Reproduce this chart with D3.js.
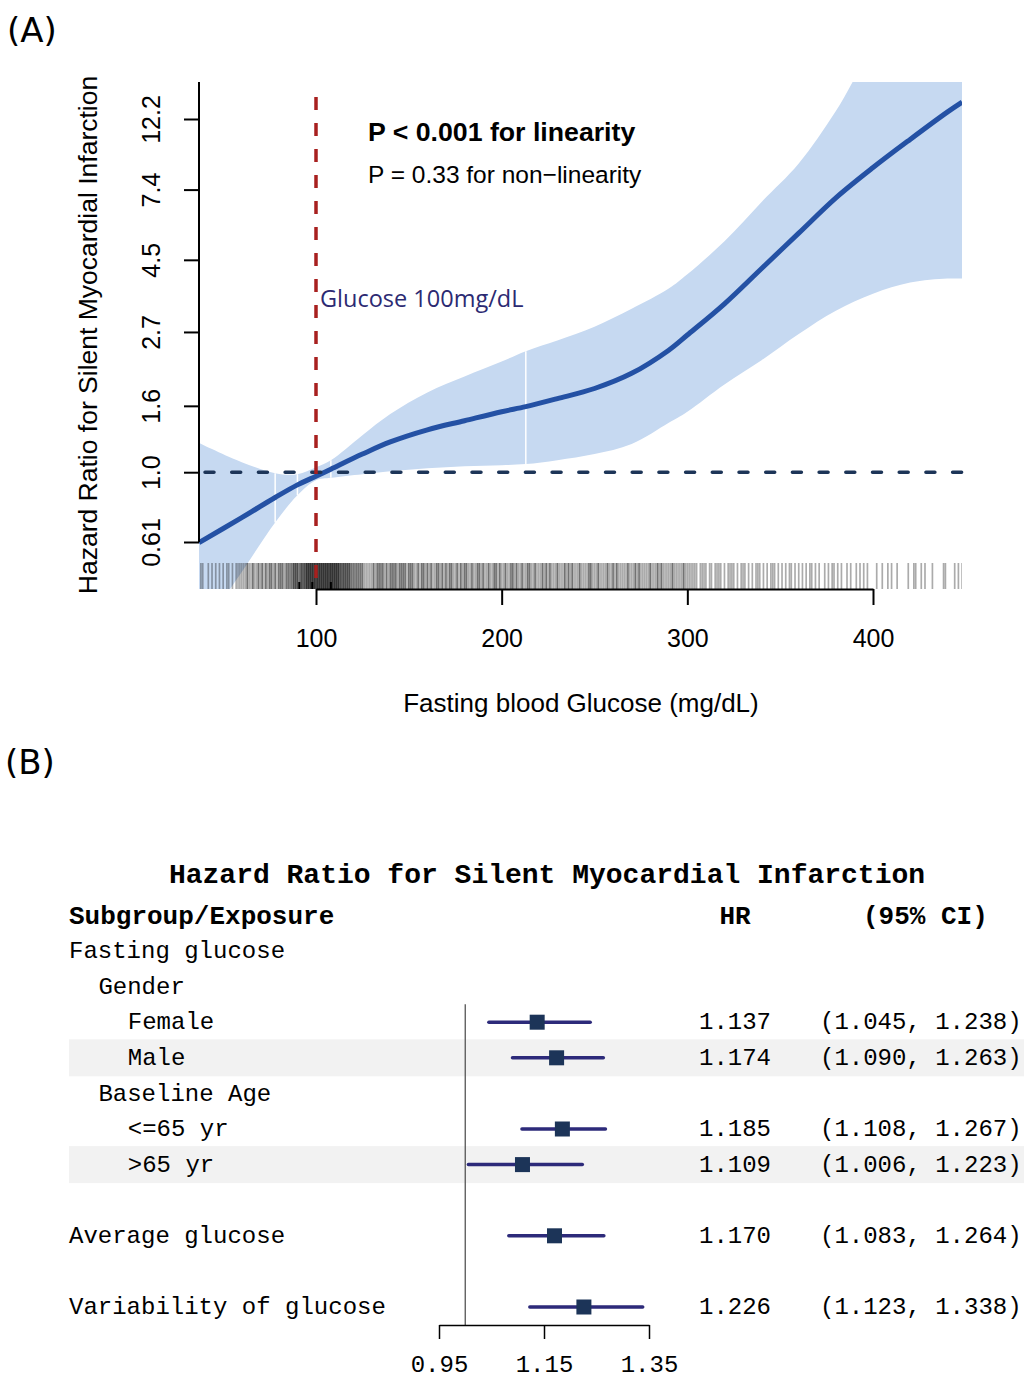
<!DOCTYPE html>
<html>
<head>
<meta charset="utf-8">
<script src="https://cdn.jsdelivr.net/npm/d3@7"></script>
<style>
  body { margin: 0; background: #fff; }
  svg { display: block; }
</style>
</head>
<body>
<div id="chart"></div>
<script>
// ---- Panel A: spline of fasting glucose vs hazard ratio ----
const glucoseGrid = [37, 60, 78, 90, 100, 108, 125, 140, 160, 180, 200, 213, 230, 250, 270, 290, 300, 320, 340, 360, 380, 400, 420, 440, 448];
const hrFit = [0.607, 0.725, 0.836, 0.914, 0.972, 1.022, 1.137, 1.239, 1.35, 1.44, 1.535, 1.591, 1.684, 1.809, 2.014, 2.373, 2.642, 3.296, 4.233, 5.435, 6.979, 8.65, 10.56, 12.81, 13.75];
const hrLower = [0.317, 0.493, 0.7, 0.849, 0.944, 0.961, 0.986, 1.007, 1.029, 1.044, 1.051, 1.059, 1.089, 1.137, 1.221, 1.419, 1.535, 1.862, 2.21, 2.66, 3.136, 3.54, 3.83, 3.94, 3.94];
const hrUpper = [1.23, 1.074, 0.993, 0.986, 1.036, 1.089, 1.3, 1.51, 1.76, 1.97, 2.19, 2.357, 2.54, 2.8, 3.18, 3.67, 4.06, 5.13, 6.78, 8.9, 12.9, 20.4, 29.1, 38.7, 43.1];
const bandSeams = [78, 90, 108, 213];
const knotMarks = [91, 98, 108];
const xTicksA = [100, 200, 300, 400];
const yTicksA = [0.61, 1.0, 1.6, 2.7, 4.5, 7.4, 12.2];
const yTickLabelsA = ["0.61", "1.0", "1.6", "2.7", "4.5", "7.4", "12.2"];
const refGlucose = 100;

// one rug line per participant (mg/dL)
const rugGlucose = [
  38, 39, 42, 44, 46, 48, 50, 52, 53, 55, 57, 58,
  59, 60, 61, 62, 63, 64, 65, 66, 67, 68, 69, 70, 71, 72, 73, 74, 75, 76, 77, 78, 79,
  80, 81, 82, 83, 84, 85, 86, 87, 88, 89, 90, 91, 92, 93, 94, 95, 96, 97, 98, 99,
  100, 101, 102, 103, 104, 105, 106, 107, 108, 109, 110, 111, 112, 113, 114, 115, 116, 117, 118, 119,
  120, 121, 122, 123, 124, 125, 126, 127, 128, 129, 130,
  63, 66, 69, 71, 73, 75, 76, 78, 80, 81, 82, 84, 85, 86, 87, 88, 89, 90,
  88, 89, 90, 91, 92, 93, 94, 95, 96, 97, 98, 99, 100, 101, 102, 103, 104, 105, 106,
  107, 108, 109, 110, 111, 112, 113, 114, 115, 116, 117, 118, 119, 120, 121, 122, 123, 124, 125,
  92, 93, 94, 95, 96, 97, 98, 99, 100, 101, 102, 103, 104, 105, 106, 107, 108, 109, 110,
  111, 112, 113, 114, 115, 116, 117, 118,
  95, 96, 97, 98, 99, 100, 101, 102, 103, 104, 105, 106, 107, 108, 109, 110, 111, 112,
  131, 132, 133, 134, 135, 136, 137, 138, 139, 140, 141, 142, 143, 144, 145, 146, 147, 148, 149,
  150, 151, 152, 153, 154, 155, 156, 157, 158, 159, 160, 161, 162, 163, 164, 165, 166, 167, 168, 169,
  170, 171, 172, 173, 174, 175, 176, 177, 178, 179, 180, 181, 182, 183, 184, 185, 186, 187, 188, 189,
  190, 191, 192, 193, 194, 195, 196, 197, 198, 199, 200, 201, 202, 203, 204, 205, 206, 207, 208, 209,
  210, 211, 212, 213, 214, 215, 216, 217, 218, 219, 220, 221, 222, 223, 224, 225, 226, 227, 228, 229,
  230, 231, 232, 233, 234, 235, 236, 237, 238, 239, 240, 241, 242, 243, 244, 245, 246, 247, 248, 249,
  250, 251, 252, 253, 254, 255, 256, 257, 258, 259, 260, 261, 262, 263, 264, 265, 266, 267, 268, 269,
  270, 271, 272, 273, 274, 275, 276, 277, 278, 279, 280, 281, 282, 283, 284, 285, 286, 287, 288, 289,
  290, 291, 292, 293, 294, 295, 296, 297, 298, 299, 300,
  131, 133, 134, 136, 138, 140, 141, 143, 145, 147, 148, 150, 152, 155, 157, 160, 162, 165, 168, 170,
  173, 176, 178, 181, 184, 187, 190, 193, 196, 199, 202, 205, 208, 211, 214, 218, 222, 226, 230, 234,
  238, 242, 247, 252, 257, 262, 268, 274, 280, 286, 292, 298,
  135, 142, 146, 151, 158, 166, 172, 180, 188, 197, 206, 215, 224, 236, 248, 260, 272, 284,
  301, 302, 304, 305, 307, 308, 310, 312, 313, 315, 317, 318, 320, 322, 324, 325, 327, 329, 331, 333,
  335, 337, 339, 341, 343, 345, 347, 349, 351, 353, 355, 358, 360, 362, 364, 367, 369, 371, 374, 376,
  378, 381, 383, 386, 388, 391, 393, 395, 397,
  303, 309, 316, 323, 330, 338, 346, 356, 366, 379,
  402, 405, 408, 410, 413, 419, 422, 423, 426, 428, 432, 438, 439, 444, 446, 448
];

// ---- Panel B: forest plot ----
const rowLabels = ["Fasting glucose", "Gender", "Female", "Male", "Baseline Age", "<=65 yr", ">65 yr", "Average glucose", "Variability of glucose"];
const rowSlot = [0, 1, 2, 3, 4, 5, 6, 8, 10];
const rowIndent = [0, 1, 2, 2, 1, 2, 2, 0, 0];
const hrEst = [null, null, 1.137, 1.174, null, 1.185, 1.109, 1.170, 1.226];
const ciLow = [null, null, 1.045, 1.090, null, 1.108, 1.006, 1.083, 1.123];
const ciHigh = [null, null, 1.238, 1.263, null, 1.267, 1.223, 1.264, 1.338];
const shadedSlots = [3, 6];
const xTicksB = [0.95, 1.15, 1.35];

const sansA = "'Liberation Sans', Arial, Helvetica, sans-serif";
const mono = "'Liberation Mono', 'Courier New', monospace";

const svg = d3
  .select("#chart")
  .append("svg")
  .attr("width", 1024)
  .attr("height", 1379)
  .style("background", "#fff");

drawSpline(svg);
drawForest(svg);

function drawSpline(svg) {
  const plot = { left: 199, right: 962, top: 82, bottom: 589 };

  const x = d3.scaleLinear().domain([100, 400]).range([316, 873]);
  const y = d3.scaleLog().domain([0.61, 12.2]).range([542, 119]);
  const smooth = d3.curveCatmullRom.alpha(0.5);

  svg.append("text")
    .attr("x", 7).attr("y", 42)
    .style("font-family", "'DejaVu Sans', sans-serif")
    .style("font-size", "34px")
    .text("(A)");

  svg.append("clipPath").attr("id", "clipA")
    .append("rect")
    .attr("x", plot.left).attr("y", plot.top)
    .attr("width", plot.right - plot.left)
    .attr("height", plot.bottom - plot.top);

  const g = svg.append("g");
  const clipped = g.append("g").attr("clip-path", "url(#clipA)");

  // confidence band
  const band = d3.area()
    .x(function (d, i) { return x(glucoseGrid[i]); })
    .y0(function (d, i) { return y(hrLower[i]); })
    .y1(function (d, i) { return y(hrUpper[i]); })
    .curve(smooth);

  clipped.append("path")
    .datum(glucoseGrid)
    .attr("d", band)
    .attr("fill", "#c6d9f1");

  // faint seams in the band polygon
  bandSeams.forEach(function (s) {
    const i = glucoseGrid.indexOf(s);
    clipped.append("line")
      .attr("x1", x(s)).attr("x2", x(s))
      .attr("y1", y(hrLower[i])).attr("y2", y(hrUpper[i]))
      .attr("stroke", "#fff")
      .attr("stroke-width", 1.5);
  });

  // rug
  clipped.append("g")
    .selectAll("line")
    .data(rugGlucose)
    .enter()
    .append("line")
    .attr("x1", function (d) { return x(d); })
    .attr("x2", function (d) { return x(d); })
    .attr("y1", 563)
    .attr("y2", plot.bottom)
    .attr("stroke", "#000")
    .attr("stroke-opacity", 0.33)
    .attr("stroke-width", 1.7);

  g.selectAll(".knot")
    .data(knotMarks)
    .enter()
    .append("line")
    .attr("x1", function (d) { return x(d); })
    .attr("x2", function (d) { return x(d); })
    .attr("y1", 582)
    .attr("y2", plot.bottom)
    .attr("stroke", "#000")
    .attr("stroke-width", 2);

  // reference line HR = 1
  g.append("line")
    .attr("x1", plot.left).attr("x2", plot.right)
    .attr("y1", y(1)).attr("y2", y(1))
    .attr("stroke", "#1d3558")
    .attr("stroke-width", 3.5)
    .attr("stroke-linecap", "round")
    .attr("stroke-dasharray", "9,17.7")
    .attr("stroke-dashoffset", -6);

  // fitted curve
  const line = d3.line()
    .x(function (d, i) { return x(glucoseGrid[i]); })
    .y(function (d) { return y(d); })
    .curve(smooth);

  clipped.append("path")
    .datum(hrFit)
    .attr("d", line)
    .attr("fill", "none")
    .attr("stroke", "#2451a4")
    .attr("stroke-width", 5);

  // glucose 100 mg/dL marker
  g.append("line")
    .attr("x1", x(refGlucose)).attr("x2", x(refGlucose))
    .attr("y1", 97).attr("y2", plot.bottom)
    .attr("stroke", "#a8201f")
    .attr("stroke-width", 3.5)
    .attr("stroke-dasharray", "13,13");

  // axes
  const xAxis = g.append("g")
    .attr("transform", "translate(0," + plot.bottom + ")")
    .call(d3.axisBottom(x).tickValues(xTicksA).tickSize(16).tickSizeOuter(0));
  xAxis.select(".domain").attr("stroke-width", 2);
  xAxis.selectAll(".tick line").attr("stroke-width", 2);
  xAxis.selectAll("text")
    .attr("y", 49)
    .attr("dy", "0.35em")
    .style("font-family", sansA)
    .style("font-size", "25px")
    .attr("fill", "#000");

  const yAxis = g.append("g")
    .attr("transform", "translate(" + plot.left + ",0)")
    .call(d3.axisLeft(y).tickValues(yTicksA).tickSize(15).tickSizeOuter(0)
      .tickFormat(function (d, i) { return yTickLabelsA[i]; }));
  yAxis.select(".domain").remove();
  yAxis.selectAll(".tick line").attr("stroke-width", 2);
  yAxis.selectAll("text")
    .attr("x", null)
    .attr("dy", "0.35em")
    .attr("text-anchor", "middle")
    .attr("transform", "translate(-48,0) rotate(-90)")
    .style("font-family", sansA)
    .style("font-size", "25px")
    .attr("fill", "#000");
  g.append("line")
    .attr("x1", plot.left).attr("x2", plot.left)
    .attr("y1", plot.top).attr("y2", y(0.61))
    .attr("stroke", "#000")
    .attr("stroke-width", 2);

  g.append("text")
    .attr("transform", "translate(97,335) rotate(-90)")
    .attr("text-anchor", "middle")
    .style("font-family", sansA)
    .style("font-size", "26.5px")
    .text("Hazard Ratio for Silent Myocardial Infarction");

  g.append("text")
    .attr("x", 581).attr("y", 712)
    .attr("text-anchor", "middle")
    .style("font-family", sansA)
    .style("font-size", "26px")
    .text("Fasting blood Glucose (mg/dL)");

  // annotations
  g.append("text")
    .attr("x", 368).attr("y", 141)
    .style("font-family", sansA)
    .style("font-size", "26.7px")
    .style("font-weight", "bold")
    .text("P < 0.001 for linearity");

  g.append("text")
    .attr("x", 368).attr("y", 183)
    .style("font-family", sansA)
    .style("font-size", "24.5px")
    .text("P = 0.33 for non\u2212linearity");

  g.append("text")
    .attr("x", 320).attr("y", 307)
    .style("font-family", "'Open Sans', sans-serif")
    .style("font-size", "23.5px")
    .attr("fill", "#2c2a72")
    .text("Glucose 100mg/dL");
}

function drawForest(svg) {
  const g = svg.append("g");

  const xf = d3.scaleLinear().domain([0.95, 1.35]).range([439, 649]);
  const ys = d3.scaleLinear().domain([0, 10]).range([951, 1307]);
  const f3 = d3.format(".3f");

  svg.append("text")
    .attr("x", 5).attr("y", 774)
    .style("font-family", "'DejaVu Sans', sans-serif")
    .style("font-size", "34px")
    .text("(B)");

  // shaded rows
  g.selectAll(".shade")
    .data(shadedSlots)
    .enter()
    .append("rect")
    .attr("x", 69)
    .attr("y", function (d) { return ys(d) - 18.5; })
    .attr("width", 1024 - 69)
    .attr("height", 37)
    .attr("fill", "#f2f2f2");

  g.append("text")
    .attr("x", 547).attr("y", 883)
    .attr("text-anchor", "middle")
    .style("font-family", mono)
    .style("font-size", "28px")
    .style("font-weight", "bold")
    .text("Hazard Ratio for Silent Myocardial Infarction");

  const header = g.append("g")
    .style("font-family", mono)
    .style("font-size", "26px")
    .style("font-weight", "bold");
  header.append("text").attr("x", 69).attr("y", 924).text("Subgroup/Exposure");
  header.append("text").attr("x", 735).attr("y", 924).attr("text-anchor", "middle").text("HR");
  header.append("text").attr("x", 863).attr("y", 924).text("(95% CI)");

  const rows = g.selectAll(".row")
    .data(rowLabels)
    .enter()
    .append("g")
    .attr("transform", function (d, i) { return "translate(0," + ys(rowSlot[i]) + ")"; })
    .style("font-family", mono)
    .style("font-size", "24px");

  rows.append("text")
    .attr("x", function (d, i) { return 69 + rowIndent[i] * 29.4; })
    .attr("dy", "0.3em")
    .text(function (d) { return d; });

  // null line at HR = 1
  g.append("line")
    .attr("x1", xf(1)).attr("x2", xf(1))
    .attr("y1", ys(2) - 18).attr("y2", 1325)
    .attr("stroke", "#555")
    .attr("stroke-width", 1.3);

  const est = rows.filter(function (d, i) { return hrEst[i] !== null; });

  est.append("line")
    .attr("x1", function (d) { return xf(ciLow[rowLabels.indexOf(d)]); })
    .attr("x2", function (d) { return xf(ciHigh[rowLabels.indexOf(d)]); })
    .attr("stroke", "#2d2a7a")
    .attr("stroke-width", 3.5)
    .attr("stroke-linecap", "round");

  est.append("rect")
    .attr("x", function (d) { return xf(hrEst[rowLabels.indexOf(d)]) - 7.5; })
    .attr("y", -7.5)
    .attr("width", 15)
    .attr("height", 15)
    .attr("fill", "#1c3458");

  est.append("text")
    .attr("x", 699)
    .attr("dy", "0.3em")
    .text(function (d) { return f3(hrEst[rowLabels.indexOf(d)]); });

  est.append("text")
    .attr("x", 820)
    .attr("dy", "0.3em")
    .text(function (d) {
      const i = rowLabels.indexOf(d);
      return "(" + f3(ciLow[i]) + ", " + f3(ciHigh[i]) + ")";
    });

  const axisB = g.append("g")
    .attr("transform", "translate(0,1325)")
    .call(d3.axisBottom(xf).tickValues(xTicksB).tickSize(14).tickSizeOuter(0)
      .tickFormat(d3.format(".2f")));
  axisB.select(".domain").attr("stroke-width", 1.5);
  axisB.selectAll(".tick line").attr("stroke-width", 1.5);
  axisB.selectAll("text")
    .attr("y", 39)
    .attr("dy", "0.35em")
    .style("font-family", mono)
    .style("font-size", "24px")
    .attr("fill", "#000");
}
</script>
</body>
</html>
